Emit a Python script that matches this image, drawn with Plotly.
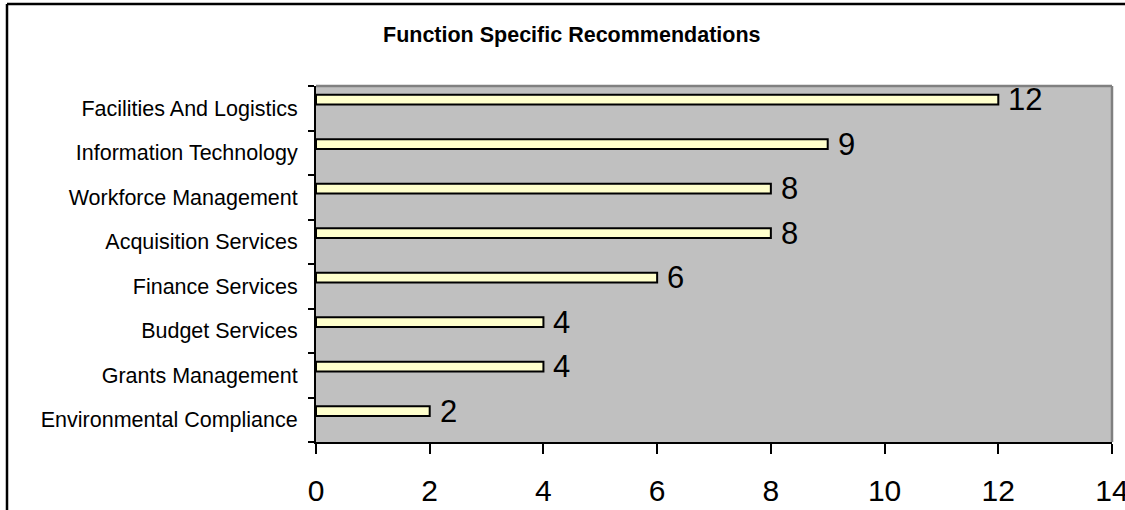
import plotly.graph_objects as go

# Recommendation counts per function (listed bottom to top)
functions = [
    "Environmental Compliance",
    "Grants Management",
    "Budget Services",
    "Finance Services",
    "Acquisition Services",
    "Workforce Management",
    "Information Technology",
    "Facilities And Logistics",
]
counts = [2, 4, 4, 6, 8, 8, 9, 12]
x_ticks = [0, 2, 4, 6, 8, 10, 12, 14]

FONT = "Liberation Sans, Arial, sans-serif"
W, H = 1125, 510
ML, MR, MT, MB = 316, 13, 86, 68
PW, PH = W - ML - MR, H - MT - MB

BAR_OFFSET = 0.085
BAR_WIDTH = 0.22
slot_px = PH / len(functions)


def px_x(px):
    return (px - ML) / PW


def px_y(py):
    return 1 + (MT - py) / PH


fig = go.Figure()
fig.add_trace(go.Bar(
    x=counts,
    y=functions,
    orientation="h",
    offset=BAR_OFFSET,
    width=BAR_WIDTH,
    marker=dict(color="#FFFFCC", line=dict(color="black", width=2)),
    hoverinfo="x+y",
    showlegend=False,
))

# value labels to the right of each bar
for f, c in zip(functions, counts):
    fig.add_annotation(
        x=c, y=f, xref="x", yref="y",
        text=str(c), showarrow=False,
        xanchor="left", yanchor="middle",
        xshift=8, yshift=(BAR_OFFSET + BAR_WIDTH / 2) * slot_px,
        font=dict(family=FONT, size=31, color="black"),
    )

# title
fig.add_annotation(
    x=px_x(572), y=px_y(35), xref="paper", yref="paper",
    text="<b>Function Specific Recommendations</b>", showarrow=False,
    xanchor="center", yanchor="middle",
    font=dict(family=FONT, size=21.5, color="black"),
)

# outer chart frame (left and top edges)
fig.add_shape(type="line", xref="paper", yref="paper",
              x0=px_x(7), x1=px_x(7), y0=px_y(4), y1=px_y(H),
              line=dict(color="black", width=2.5))
fig.add_shape(type="line", xref="paper", yref="paper",
              x0=px_x(7), x1=px_x(W), y0=px_y(4), y1=px_y(4),
              line=dict(color="black", width=2.5))
# gray plot-area border on top and right
fig.add_shape(type="line", xref="paper", yref="paper", x0=0, x1=1, y0=1, y1=1,
              line=dict(color="#808080", width=2.5), layer="below")
fig.add_shape(type="line", xref="paper", yref="paper", x0=1, x1=1, y0=0, y1=1,
              line=dict(color="#808080", width=2.5), layer="below")

fig.update_layout(
    width=W, height=H,
    margin=dict(l=ML, r=MR, t=MT, b=MB, pad=0),
    paper_bgcolor="white",
    plot_bgcolor="#C0C0C0",
    font=dict(family=FONT, color="black"),
    xaxis=dict(
        range=[0, 14], tickvals=x_ticks, ticktext=[str(v) for v in x_ticks],
        ticks="outside", ticklen=10, tickwidth=2, tickcolor="black",
        showline=True, linecolor="black", linewidth=2,
        showgrid=False, zeroline=False,
        tickfont=dict(family=FONT, size=30, color="black"),
        ticklabelstandoff=11, ticklabeloverflow="allow",
        automargin=False, fixedrange=True,
    ),
    yaxis=dict(
        type="category", categoryorder="array", categoryarray=functions,
        range=[-0.5, len(functions) - 0.5],
        tickson="boundaries",
        ticks="outside", ticklen=6, tickwidth=2, tickcolor="black",
        showline=True, linecolor="black", linewidth=2,
        showgrid=False, zeroline=False,
        tickfont=dict(family=FONT, size=21.5, color="black"),
        ticklabelstandoff=12,
        automargin=False, fixedrange=True,
    ),
)

# clip the last axis label at the figure's right edge
fig.write_html(
    "out.html",
    post_script=(
        "var gd=document.getElementById('{plot_id}');"
        "gd.style.overflow='hidden';"
        "document.body.style.overflow='hidden';"
    ),
)
